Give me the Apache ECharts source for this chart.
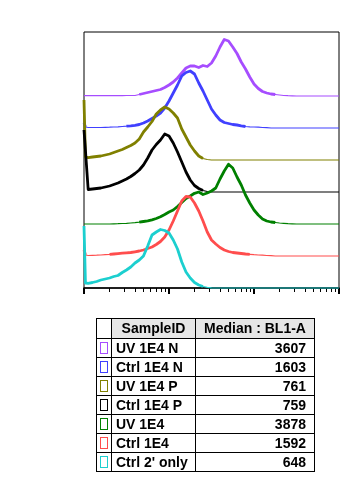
<!DOCTYPE html>
<html>
<head>
<meta charset="utf-8">
<script src="https://cdn.jsdelivr.net/npm/echarts@6/dist/echarts.min.js"></script>
<style>
html,body{margin:0;padding:0;background:#fff;}
#chart{position:absolute;left:0;top:0;width:361px;height:492px;}
#tbl{position:absolute;left:96px;top:318px;border-collapse:collapse;table-layout:fixed;width:218px;
 font-family:"Liberation Sans",Arial,sans-serif;font-weight:bold;font-size:14px;color:#000;}
#tbl td{border:1px solid #000;padding:0;height:18px;line-height:18px;white-space:nowrap;overflow:hidden;}
#tbl tr.hd td{height:19px;line-height:19px;background:#e6e6e6;text-align:center;}
#tbl tr.hd td.ic{background:#fff;}
#tbl td.ic{text-align:center;}
#tbl td.nm{padding-left:4px;}
#tbl td.md{text-align:right;padding-right:8px;}
.sw{display:inline-block;width:6px;height:10px;border:1px solid #000;vertical-align:middle;margin-top:-2px;}
</style>
</head>
<body>
<div id="chart"></div>
<table id="tbl"><colgroup><col style="width:15px"><col style="width:84px"><col style="width:119px"></colgroup><tbody id="tb"></tbody></table>
<script>
// ---- data ----
const sampleIds = ["UV 1E4 N", "Ctrl 1E4 N", "UV 1E4 P", "Ctrl 1E4 P", "UV 1E4", "Ctrl 1E4", "Ctrl 2' only"];
const medians = [3607, 1603, 761, 759, 3878, 1592, 648];
const colors = ["#a64dff", "#4040ff", "#808000", "#000000", "#008000", "#ff4d4d", "#1ccfcf"];
const baselineOffsets = [192, 160, 128, 96, 64, 32, 0];

// BL1-A channel values (bin positions)
const fluorescence = [100,104,112,126,141,158,178,200,224,251,282,316,355,398,447,501,562,631,708,794,891,1000,
 1122,1259,1413,1585,1778,1995,2239,2512,2818,3162,3548,3981,4467,5012,5623,6310,7079,7943,8913,10000,
 11220,12589,14125,15849,17783,19953,22387,25119,28184,31623,50000,100000];

const uv1e4N = [0.3,0.3,
 0.3,0.3,0.3,0.3,0.3,0.3,0.4,0.4,0.4,0.5,
 0.5,0.5,1.5,2.5,3.5,4.5,5.5,6.5,8.5,11,
 14,18,23,28,30,30,28.5,30.5,29.5,33,
 40,49,56.5,55,49,42.5,34,27,19,12,
 7.5,4.5,3,2,1.5,1,0.5,0.3,0.2,0,
 0,0];
const ctrl1e4N = [5,1,
 0.5,0.5,0.5,0.5,0.7,0.8,1,1.2,1.5,1.8,
 2.2,2.7,3.5,5,7,9.5,12,15,20,27,
 35,43,52,55.5,57,54,45,37,28,19,
 13,8,5.5,4.5,3.5,3,2.2,1.5,1.2,1,
 0.8,0.5,0.3,0,0,0,0,0,0,0,
 0,0];
const uv1e4P = [60,3,
 2.3,3,3.5,4,5,6,7.5,9,10.5,12.5,
 14.5,17,21,28,33,38.5,46,50,53,51,
 47,42,31,23,15,9,4,1.5,0.5,0,
 0,0,0,0,0,0,0,0,0,0,
 0,0,0,0,0,0,0,0,0,0,
 0,0];
const ctrl1e4P = [62,60,
 2.5,3,3.5,4,5,6,7.5,9,11,13,
 15.5,18.5,22,27,34,42,47.5,52,58,56,
 49,40,30,20,12,6.5,3.5,1.5,0.5,0,
 0,0,0,0,0,0,0,0,0,0,
 0,0,0,0,0,0,0,0,0,0,
 0,0];
const uv1e4 = [0,0,
 0,0,0,0,0,0,0.2,0.3,0.5,0.7,
 1,1.3,1.8,2.5,3.2,4.2,5.5,7.2,9.5,12,
 14,17.5,21.5,25.5,28,30.7,32,29.5,31,33,
 36,45,53,59.7,56,47,39,29,21,14,
 9,5,3,2,1.5,1,0.7,0.4,0.2,0,
 0,0];
const ctrl1e4 = [6,1,
 0.5,0.7,0.8,1,1.3,1.6,2,2.4,2.8,3.2,
 3.5,4.2,5,6,7.5,9,11.5,14.5,19,26,
 35,45,55,59.5,59,53,45,35,24,16,
 12,8.5,6,4.5,3.5,3,2.5,2,1.7,1.3,
 1,0.8,0.5,0.3,0,0,0,0,0,0,
 0,0];
const ctrl2only = [62,5,
 4.7,5.5,6.5,8,9,10,11.5,12.5,15.5,18,
 21,25,28,32,42,53,56,58.5,57.5,55,
 48,39,26,16,10,5.5,3,1.5,0.7,0.2,
 0,0,0,0,0,0,0,0,0,0,
 0,0,0,0,0,0,0,0,0,0,
 0,0];
const histograms = [uv1e4N, ctrl1e4N, uv1e4P, ctrl1e4P, uv1e4, ctrl1e4, ctrl2only];

const majorTicks = [100, 1000, 10000, 100000];
const minorTicks = [200,300,400,500,600,700,800,900,2000,3000,4000,5000,6000,7000,8000,9000,
 20000,30000,40000,50000,60000,70000,80000,90000];

// ---- chart ----
const chart = echarts.init(document.getElementById('chart'));
const series = [];
histograms.forEach((h, i) => {
  // thin full trace (baseline)
  series.push({
    name: sampleIds[i], type: 'line', clip: false,
    data: fluorescence.map((x, j) => [x, baselineOffsets[i] + h[j]]),
    symbol: 'none', smooth: false,
    lineStyle: { color: colors[i], width: 1.2 },
    z: 2 + i * 2
  });
  // heavier trace where the histogram rises off its baseline
  series.push({
    name: sampleIds[i] + ' peak', type: 'line', clip: false, connectNulls: false,
    data: fluorescence.map((x, j) => {
      const on = h[j] >= 2 || (j > 0 && h[j - 1] >= 2) || (j < h.length - 1 && h[j + 1] >= 2);
      return on ? [x, baselineOffsets[i] + h[j]] : [x, null];
    }),
    symbol: 'none', smooth: false,
    lineStyle: { color: colors[i], width: 2.8, join: 'round', cap: 'butt' },
    z: 3 + i * 2
  });
});

chart.setOption({
  animation: false,
  backgroundColor: '#fff',
  grid: { left: 84, top: 32, width: 255, height: 256, show: true, borderColor: '#000', borderWidth: 1, backgroundColor: 'transparent', containLabel: false },
  xAxis: [
    { type: 'log', logBase: 10, min: 100, max: 100000, position: 'bottom',
      axisLine: { show: true, onZero: false, lineStyle: { color: '#000', width: 1.5 } },
      axisTick: { show: true, inside: false, length: 6, customValues: majorTicks, lineStyle: { color: '#000', width: 2 } },
      axisLabel: { show: false }, splitLine: { show: false }, minorTick: { show: false } },
    { type: 'log', logBase: 10, min: 100, max: 100000, position: 'bottom', offset: 0,
      axisLine: { show: false, onZero: false },
      axisTick: { show: true, inside: false, length: 4, customValues: minorTicks, lineStyle: { color: '#000', width: 1 } },
      axisLabel: { show: false }, splitLine: { show: false }, minorTick: { show: false } }
  ],
  yAxis: { type: 'value', min: 0, max: 256, show: false, splitLine: { show: false } },
  series: series
});

// ---- table ----
const tb = document.getElementById('tb');
let html = '<tr class="hd"><td class="ic"></td><td>SampleID</td><td>Median : BL1-A</td></tr>';
sampleIds.forEach((s, i) => {
  html += '<tr><td class="ic"><span class="sw" style="border-color:' + colors[i] + '"></span></td>' +
          '<td class="nm">' + s + '</td><td class="md">' + medians[i] + '</td></tr>';
});
tb.innerHTML = html;
</script>
</body>
</html>
